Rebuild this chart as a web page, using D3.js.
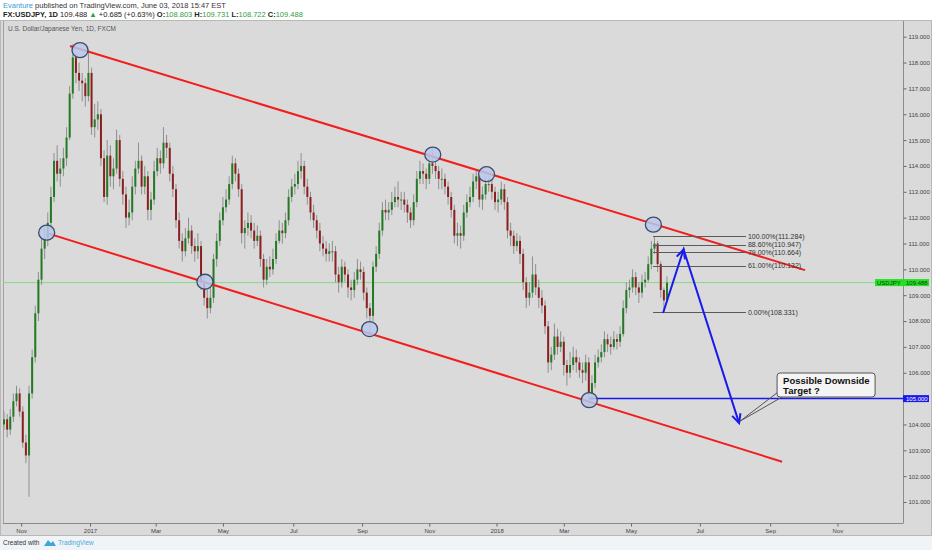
<!DOCTYPE html>
<html>
<head>
<meta charset="utf-8">
<script src="https://cdnjs.cloudflare.com/ajax/libs/d3/7.8.5/d3.min.js"></script>
<style>
  body { margin: 0; background: #fff; }
  svg { display: block; font-family: "Liberation Sans", Arial, sans-serif; }
</style>
</head>
<body>
<svg id="chart" width="932" height="550"></svg>
<script>
// ---- data (one candle every 2 trading days, FXCM USDJPY daily) ----
var startDate = "2016-10-17";
var barStep = 2;
var firstOpen = 104.0;
var closes = [
  104.2,103.8,104.3,104.9,105.2,104.5,103.3,102.8,105.2,106.6,
  108.3,109.6,110.8,111.2,111.8,112.8,114.2,113.7,113.9,114.3,
  115.1,116.8,118.2,117.6,117.3,117.2,116.7,117.6,115.5,115.8,
  116.0,114.3,112.8,114.4,113.6,113.9,115.0,113.5,112.9,112.0,
  112.2,113.2,113.9,114.2,113.2,113.6,112.3,112.7,113.8,114.3,
  114.1,114.9,114.7,113.7,113.1,111.9,111.1,110.7,111.2,111.5,
  110.9,110.7,110.9,109.5,108.9,108.5,108.9,110.4,111.1,111.9,
  112.4,112.7,113.3,114.1,113.7,113.1,111.4,111.6,111.8,111.5,
  111.1,111.3,110.4,109.6,110.1,110.0,110.4,111.1,111.5,111.4,
  111.9,112.8,113.2,113.3,113.8,114.0,113.2,112.8,112.2,111.9,
  111.5,111.0,110.8,110.6,110.7,110.7,109.8,109.5,110.1,109.8,
  109.3,109.2,109.6,110.0,109.9,109.1,108.5,108.2,110.1,110.6,
  111.5,112.3,112.2,112.3,112.6,112.8,112.7,112.7,112.5,112.2,
  111.9,112.6,113.5,113.8,113.7,113.5,114.1,114.0,113.8,113.5,
  113.5,113.2,112.8,112.3,111.3,111.4,111.3,112.2,112.6,112.8,
  113.4,113.6,112.7,112.9,113.3,113.3,113.0,112.6,112.7,113.1,
  112.6,111.5,111.3,110.9,111.1,110.6,109.5,108.9,109.1,109.8,
  109.3,108.9,108.6,107.8,106.4,106.7,107.4,107.0,107.2,106.3,
  106.0,106.3,106.6,106.4,106.1,106.0,106.4,105.2,105.6,106.4,
  106.6,106.8,107.3,107.1,107.0,107.3,107.2,107.5,108.5,109.2,
  109.3,109.7,109.3,109.1,109.5,109.6,110.2,110.8,111.0,110.2,
  109.2,108.8,109.488
];
var highs = [
  104.5,104.4,104.6,105.2,105.5,105.4,104.7,103.6,105.5,106.9,
  108.6,109.9,111.2,111.6,112.2,113.2,114.5,114.8,114.3,114.7,
  115.5,117.1,118.7,118.4,118.0,117.6,117.4,118.5,117.8,116.4,
  116.5,116.2,114.6,115.0,114.8,114.3,115.4,115.2,113.8,113.2,
  112.7,113.6,114.2,114.9,114.4,114.0,113.8,113.0,114.2,114.7,
  114.6,115.5,115.2,114.9,114.0,113.3,112.2,111.4,111.6,112.0,
  111.7,111.2,111.4,111.1,109.8,109.2,109.3,110.6,111.4,112.2,
  112.8,113.1,113.6,114.4,114.3,113.9,113.3,111.9,112.2,112.1,
  111.8,111.7,111.5,110.6,110.4,110.5,110.8,111.4,111.9,111.8,
  112.2,113.1,113.5,113.7,114.2,114.5,114.2,113.5,113.0,112.5,
  112.1,111.8,111.3,111.1,111.0,111.1,110.9,110.1,110.4,110.3,
  110.0,109.6,109.9,110.4,110.3,110.1,109.3,108.7,110.3,110.9,
  111.8,112.6,112.7,112.6,113.0,113.2,113.4,113.0,113.0,112.7,
  112.4,112.9,113.8,114.2,114.1,113.9,114.5,114.7,114.3,114.0,
  113.9,113.7,113.4,113.0,112.5,111.8,111.7,112.5,112.9,113.2,
  113.7,113.8,113.7,113.2,113.6,113.6,113.5,113.2,113.0,113.4,
  113.3,112.8,111.8,111.5,111.4,111.3,110.8,109.7,109.5,110.5,
  110.2,109.6,109.2,108.8,108.0,107.0,107.9,107.7,107.6,107.4,
  106.5,106.8,107.0,106.9,106.6,106.4,106.7,106.6,105.9,106.7,
  106.9,107.1,107.6,107.5,107.4,107.6,107.5,107.8,108.8,109.5,
  109.6,110.0,109.9,109.5,109.8,109.9,110.5,111.1,111.284,111.1,
  110.3,109.3,109.731
];
var lows = [
  103.8,103.5,103.6,104.1,104.7,104.3,103.1,102.5,101.2,105.0,
  106.4,108.0,109.4,110.4,110.9,111.5,112.6,113.4,113.2,113.6,
  114.0,115.0,116.6,117.2,116.9,116.5,116.3,116.5,115.2,115.1,
  115.4,114.0,112.6,112.5,113.2,113.1,113.7,113.2,112.5,111.6,
  111.7,111.9,112.9,113.7,112.9,112.9,111.9,111.9,112.5,113.6,
  113.7,113.9,114.3,113.4,112.8,111.6,110.8,110.3,110.5,111.0,
  110.6,110.3,110.4,109.2,108.6,108.1,108.3,108.7,110.1,110.9,
  111.7,112.2,112.5,113.1,113.4,112.8,111.0,110.8,111.3,111.2,
  110.8,110.9,110.1,109.3,109.4,109.7,109.8,110.2,111.0,111.0,
  111.2,111.7,112.6,112.9,113.1,113.5,112.9,112.5,111.9,111.6,
  111.2,110.7,110.5,110.3,110.3,110.3,109.5,109.1,109.3,109.5,
  108.9,108.8,108.9,109.4,109.6,108.8,108.1,107.5,108.0,109.9,
  110.4,111.3,111.9,111.9,112.1,112.4,112.4,112.3,112.2,111.8,
  111.6,111.7,112.4,113.3,113.3,113.1,113.3,113.7,113.5,113.1,
  113.1,112.9,112.5,112.0,111.0,110.9,110.8,111.1,112.0,112.4,
  112.6,113.1,112.4,112.3,112.7,113.0,112.7,112.3,112.2,112.5,
  112.3,111.2,110.9,110.6,110.7,110.2,109.2,108.5,108.6,108.9,
  109.0,108.5,108.3,107.5,106.0,106.1,106.5,106.7,106.8,105.9,
  105.5,105.8,106.1,106.0,105.8,105.6,105.7,104.7,104.8,105.4,
  106.2,106.4,106.6,106.8,106.7,106.9,106.9,107.0,107.4,108.3,
  108.9,109.1,109.0,108.7,108.9,109.3,109.5,110.0,110.6,109.9,
  108.9,108.331,108.722
];

var priceTicks = [101,102,103,104,105,106,107,108,109,110,111,112,113,114,115,116,117,118,119];
var monthTickDates = ["2016-11-01","2017-01-02","2017-03-01","2017-05-01","2017-07-03","2017-09-01",
                      "2017-11-01","2018-01-01","2018-03-01","2018-05-01","2018-07-02","2018-09-03","2018-11-01"];
var monthTickLabels = ["Nov","2017","Mar","May","Jul","Sep","Nov","2018","Mar","May","Jul","Sep","Nov"];

// drawings, anchored as [bar index, price]
var upperChannel = [[42.2, 118.64], [512.3, 109.97]];
var lowerChannel = [[27.5, 111.40], [497.6, 102.56]];
var touchCircles = [[27.3,111.42],[48.6,118.48],[128.5,109.52],[233.8,107.69],
                    [274.2,114.44],[308.6,113.68],[415.3,111.73],[374.3,104.94]];
var targetLevel = 105.000, targetStartBar = 374.3;
var lastPrice = 109.488;
var fibLevels = [1.0, 0.886, 0.79, 0.61, 0.0];
var fibLabels = ["100.00%", "88.60%", "79.00%", "61.00%", "0.00%"];
var fibLow = 108.331, fibHigh = 111.284, fibBars = [415.1, 474.5];
var projection = [[421.5, 108.31], [434.6, 110.77], [470.1, 104.05]];
var calloutAnchor = [494.4, 105.99];
var calloutText = ["Possible Downside", "Target ?"];

// ---- layout ----
var svg = d3.select("#chart");
var plot = {left: 3, right: 903, top: 21, bottom: 523};

var x = d3.scaleLinear().domain([0, 424]).range([4, 667]);
var y = d3.scaleLinear().domain([101, 119]).range([502, 36.7]);

// trading day index of a calendar date (weekdays from start)
function barIndexOf(dateStr) {
  var d0 = new Date(startDate + "T00:00:00Z"), d1 = new Date(dateStr + "T00:00:00Z");
  var n = 0;
  for (var d = new Date(d0); d < d1; d.setUTCDate(d.getUTCDate() + 1)) {
    var wd = d.getUTCDay();
    if (wd != 0 && wd != 6) n++;
  }
  return n;
}

// backgrounds
svg.append("rect").attr("x", 0).attr("y", 0).attr("width", 932).attr("height", 550).attr("fill", "#ffffff");
svg.append("rect").attr("x", 0).attr("y", 536).attr("width", 932).attr("height", 14).attr("fill", "#f1f4f7");
svg.append("rect").attr("x", 0.5).attr("y", 20.5).attr("width", 931).attr("height", 515)
  .attr("fill", "#dadada").attr("stroke", "#b8b8b8");

svg.append("defs").append("clipPath").attr("id", "clip")
  .append("rect").attr("x", plot.left).attr("y", plot.top)
  .attr("width", plot.right - plot.left).attr("height", plot.bottom - plot.top);

// frame
svg.append("line").attr("x1", plot.right + 0.5).attr("x2", plot.right + 0.5)
  .attr("y1", plot.top).attr("y2", plot.bottom).attr("stroke", "#8c8c8c");
svg.append("line").attr("x1", plot.left).attr("x2", plot.right + 0.5)
  .attr("y1", plot.bottom + 0.5).attr("y2", plot.bottom + 0.5).attr("stroke", "#8c8c8c");
svg.append("line").attr("x1", plot.left + 0.5).attr("x2", plot.left + 0.5)
  .attr("y1", plot.top).attr("y2", plot.bottom).attr("stroke", "#a0a0a0");

// axes (the 105 tick text sits under the blue target label, as in the original)
var yAxis = d3.axisRight(y).tickValues(priceTicks).tickSize(3).tickPadding(2)
  .tickFormat(function(d) { return d == targetLevel ? "" : d3.format(".3f")(d); });
var gy = svg.append("g").attr("transform", "translate(" + (plot.right + 0.5) + ",0)").call(yAxis);
gy.select(".domain").remove();
gy.selectAll("line").attr("stroke", "#666");
gy.selectAll("text").attr("font-size", 6).attr("fill", "#444");

var xAxis = d3.axisBottom(x).tickValues(monthTickDates.map(barIndexOf)).tickSize(3).tickPadding(2)
  .tickFormat(function(d, i) { return monthTickLabels[i]; });
var gx = svg.append("g").attr("transform", "translate(0," + (plot.bottom + 0.5) + ")").call(xAxis);
gx.select(".domain").remove();
gx.selectAll("line").attr("stroke", "#666");
gx.selectAll("text").attr("font-size", 6).attr("fill", "#444");

var g = svg.append("g").attr("clip-path", "url(#clip)");

// last price line
g.append("line").attr("x1", plot.left).attr("x2", plot.right)
  .attr("y1", y(lastPrice)).attr("y2", y(lastPrice)).attr("stroke", "#86dc86").attr("stroke-width", 1);

// candles
var candles = closes.map(function(c, k) {
  return {bar: k * barStep, o: k == 0 ? firstOpen : closes[k - 1], h: highs[k], l: lows[k], c: c};
});
g.selectAll(".wick").data(candles).enter().append("line")
  .attr("x1", function(d) { return x(d.bar); }).attr("x2", function(d) { return x(d.bar); })
  .attr("y1", function(d) { return y(d.h); }).attr("y2", function(d) { return y(d.l); })
  .attr("stroke", "#8f8f8f").attr("stroke-width", 1);
g.selectAll(".body").data(candles).enter().append("rect")
  .attr("x", function(d) { return x(d.bar) - 1; }).attr("width", 2)
  .attr("y", function(d) { return y(Math.max(d.o, d.c)); })
  .attr("height", function(d) { return Math.max(1, Math.abs(y(d.o) - y(d.c))); })
  .attr("fill", function(d) { return d.c >= d.o ? "#237a23" : "#8c2020"; });

// channel lines
[upperChannel, lowerChannel].forEach(function(seg) {
  g.append("line").attr("x1", x(seg[0][0])).attr("y1", y(seg[0][1]))
    .attr("x2", x(seg[1][0])).attr("y2", y(seg[1][1]))
    .attr("stroke", "#f21d1d").attr("stroke-width", 2);
});

// target line
g.append("line").attr("x1", x(targetStartBar)).attr("x2", plot.right)
  .attr("y1", y(targetLevel)).attr("y2", y(targetLevel))
  .attr("stroke", "#1a1aee").attr("stroke-width", 1.5);

// touch circles
g.selectAll(".touch").data(touchCircles).enter().append("ellipse")
  .attr("cx", function(d) { return x(d[0]); }).attr("cy", function(d) { return y(d[1]); })
  .attr("rx", 8).attr("ry", 7.5)
  .attr("fill", "rgba(184,200,236,0.85)").attr("stroke", "#3e4a66").attr("stroke-width", 1.3);

// fibonacci retracement
fibLevels.forEach(function(lv, i) {
  var p = fibLow + lv * (fibHigh - fibLow);
  g.append("line").attr("x1", x(fibBars[0])).attr("x2", x(fibBars[1]))
    .attr("y1", Math.round(y(p)) + 0.5).attr("y2", Math.round(y(p)) + 0.5)
    .attr("stroke", "#5a5a5a").attr("stroke-width", 1);
  g.append("text").attr("x", x(fibBars[1]) + 2).attr("y", y(p) + 2.5)
    .attr("font-size", 7).attr("fill", "#333")
    .text(fibLabels[i] + "(" + p.toFixed(3) + ")");
});

// projection arrows
var arrowLine = d3.line().x(function(d) { return x(d[0]); }).y(function(d) { return y(d[1]); });
g.append("path").attr("d", arrowLine(projection)).attr("fill", "none")
  .attr("stroke", "#1a1aee").attr("stroke-width", 2).attr("stroke-linejoin", "miter");
function arrowHead(from, to) {
  var x1 = x(from[0]), y1 = y(from[1]), x2 = x(to[0]), y2 = y(to[1]);
  var a = Math.atan2(y2 - y1, x2 - x1), len = 10, spread = 0.45;
  var pts = [[x2 - len * Math.cos(a - spread), y2 - len * Math.sin(a - spread)], [x2, y2],
             [x2 - len * Math.cos(a + spread), y2 - len * Math.sin(a + spread)]];
  g.append("path").attr("d", d3.line()(pts)).attr("fill", "none")
    .attr("stroke", "#1a1aee").attr("stroke-width", 2);
}
arrowHead(projection[0], projection[1]);
arrowHead(projection[1], projection[2]);

// callout
var bx = x(calloutAnchor[0]), by = y(calloutAnchor[1]);
var tip = [x(projection[2][0]) + 1, y(projection[2][1]) - 2];
g.append("path").attr("d", d3.line()([[bx + 1, by + 19], tip, [bx + 5, by + 24]]))
  .attr("fill", "none").attr("stroke", "#555").attr("stroke-width", 1);
g.append("rect").attr("x", bx).attr("y", by).attr("width", 98).attr("height", 24)
  .attr("rx", 3).attr("fill", "#f4f4f4").attr("stroke", "#555").attr("stroke-width", 1);
calloutText.forEach(function(t, i) {
  g.append("text").attr("x", bx + 6).attr("y", by + 10.5 + i * 10)
    .attr("font-size", 9.5).attr("font-weight", "bold").attr("fill", "#111").text(t);
});

// price labels on the axis
svg.append("rect").attr("x", 875).attr("y", y(lastPrice) - 3.5).attr("width", 54).attr("height", 7).attr("fill", "#22e022");
svg.append("text").attr("x", 877).attr("y", y(lastPrice) + 2).attr("font-size", 6).attr("fill", "#1a3a1a").text("USDJPY");
svg.append("text").attr("x", 906).attr("y", y(lastPrice) + 2).attr("font-size", 6).attr("fill", "#1a3a1a").text(lastPrice.toFixed(3));
svg.append("rect").attr("x", 903).attr("y", y(targetLevel) - 3.5).attr("width", 26).attr("height", 7).attr("fill", "#1a1aee");
svg.append("text").attr("x", 906).attr("y", y(targetLevel) + 2).attr("font-size", 6).attr("fill", "#fff").text(targetLevel.toFixed(3));

// chart title
svg.append("text").attr("x", 8).attr("y", 31).attr("font-size", 6.5).attr("fill", "#555")
  .text("U.S. Dollar/Japanese Yen, 1D, FXCM");

// header
var h1 = svg.append("text").attr("x", 3).attr("y", 8).attr("font-size", 7.5).attr("fill", "#333");
h1.append("tspan").attr("fill", "#3b9ad8").text("Evanture");
h1.append("tspan").text(" published on TradingView.com, June 03, 2018 15:47 EST");

var green = "#2f9e3a";
var h2 = svg.append("text").attr("x", 3).attr("y", 16.5).attr("font-size", 7.5).attr("fill", "#222");
h2.append("tspan").attr("font-weight", "bold").text("FX:USDJPY, 1D");
h2.append("tspan").text("  109.488 ");
h2.append("tspan").attr("fill", green).text("\u25B2");
h2.append("tspan").text(" +0.685 (+0.63%) ");
[["O:", "108.803"], ["H:", "109.731"], ["L:", "108.722"], ["C:", "109.488"]].forEach(function(p) {
  h2.append("tspan").attr("font-weight", "bold").text(p[0]);
  h2.append("tspan").attr("fill", green).text(p[1] + " ");
});

// footer
svg.append("text").attr("x", 3).attr("y", 545).attr("font-size", 6.5).attr("fill", "#333").text("Created with");
svg.append("path").attr("d", "M44,546 L48,540 L51,543 L53,541 L56,546 Z").attr("fill", "#3ea6dd");
svg.append("text").attr("x", 58).attr("y", 545).attr("font-size", 6.5).attr("fill", "#4aa8dc").text("TradingView");
</script>
</body>
</html>
